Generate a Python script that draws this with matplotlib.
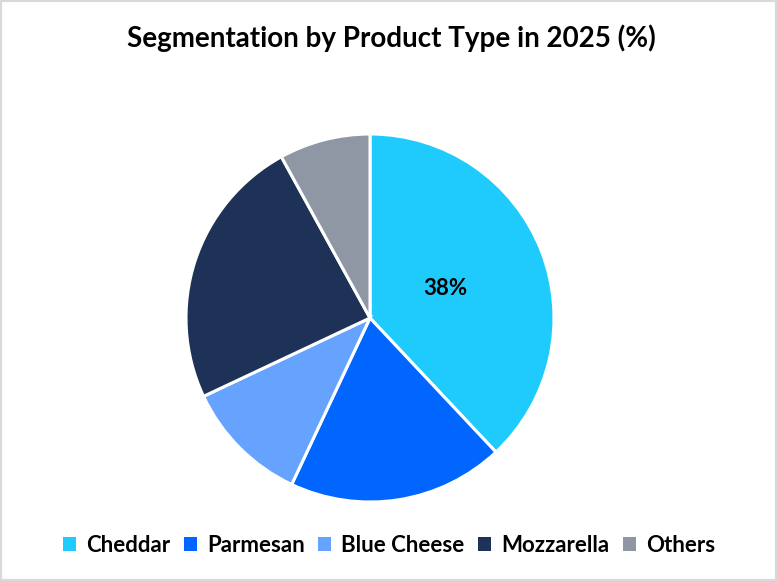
import matplotlib
matplotlib.use("Agg")
import matplotlib.pyplot as plt
from matplotlib.patches import Rectangle, Patch
import numpy as np

categories = ["Cheddar", "Parmesan", "Blue Cheese", "Mozzarella", "Others"]
shares = [38, 19, 11, 24, 8]
colors = ["#1ECBFC", "#0066FF", "#66A3FF", "#1E3156", "#9097A4"]
labeled = ["Cheddar"]
title = "Segmentation by Product Type in 2025 (%)"

plt.rcParams['font.family'] = ['Lato', 'DejaVu Sans']

W, H = 777, 581
fig = plt.figure(figsize=(W / 100, H / 100), dpi=100)
fig.patch.set_facecolor("white")

cx, cy, r = 370, 318, 184
ax = fig.add_axes([(cx - r) / W, (H - cy - r) / H, 2 * r / W, 2 * r / H])
wedges, _ = ax.pie(shares, colors=colors, startangle=90, counterclock=False,
                   radius=1.0,
                   wedgeprops=dict(edgecolor="white", linewidth=2.2))
ax.set_xlim(-1, 1)
ax.set_ylim(-1, 1)
ax.set_aspect("equal")
ax.axis("off")

for w, cat, val in zip(wedges, categories, shares):
    if cat in labeled:
        mid = np.deg2rad((w.theta1 + w.theta2) / 2)
        ax.text(0.44 * np.cos(mid), 0.44 * np.sin(mid), f"{val}%",
                ha="center", va="center", fontsize=16, fontweight="bold",
                color="black")

fig.text(391 / W, 1 - 38 / H, title, ha="center", va="center",
         fontsize=20, fontweight="bold", color="black")

handles = [Patch(facecolor=c, edgecolor="none") for c in colors]
fig.legend(handles, categories, loc="center", bbox_to_anchor=(389 / W, 1 - 545 / H),
           ncol=5, frameon=False, prop=dict(size=16, weight="bold"),
           handlelength=0.6, handleheight=0.6, handletextpad=0.45,
           columnspacing=0.6)

fig.patches.append(Rectangle((0, 0), 1, 1, transform=fig.transFigure,
                             fill=False, edgecolor="#D9D9D9", linewidth=3,
                             zorder=10))

fig.savefig("out.png", dpi=100)
